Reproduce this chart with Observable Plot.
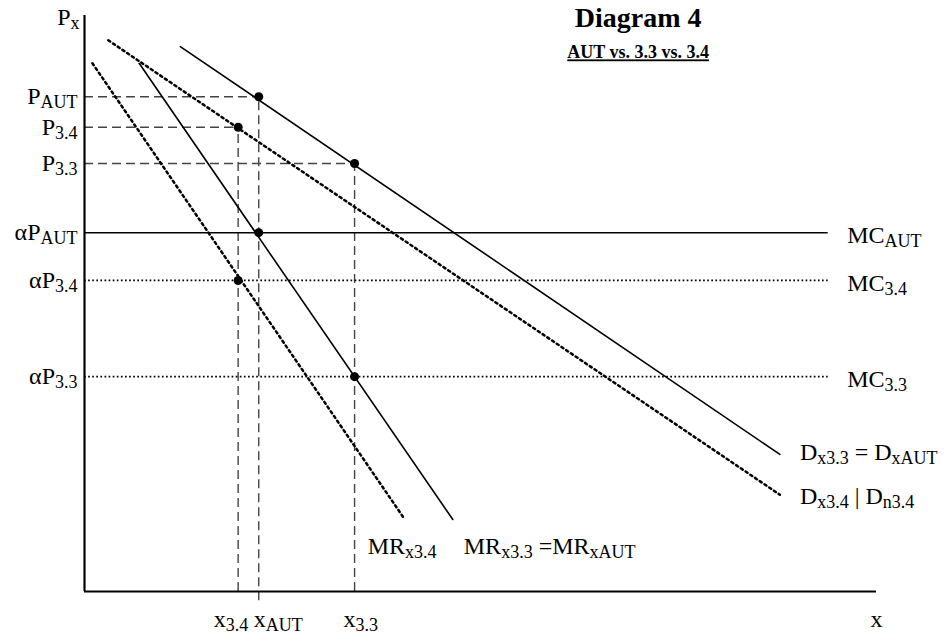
<!DOCTYPE html>
<html>
<head>
<meta charset="utf-8">
<script src="https://cdn.jsdelivr.net/npm/d3@7"></script>
<script src="https://cdn.jsdelivr.net/npm/@observablehq/plot@0.6"></script>
<style>
  html, body { margin: 0; padding: 0; background: white; }
</style>
</head>
<body>
<div id="chart"></div>
<script>
// ---- Data (schematic units: quantity 0-100, price 0-100) ----
const scenarios = ["3.4", "AUT", "3.3"];
const quantities = [19.4, 22.0, 34.1];        // x_3.4, x_AUT, x_3.3
const prices = [80.6, 85.9, 74.3];            // P_3.4, P_AUT, P_3.3
const marginalCosts = [54.0, 62.3, 37.3];     // αP_3.4, αP_AUT, αP_3.3
const quantityLabels = ["x_{3.4}", "x_{AUT}", "x_{3.3}"];
const priceLabels = ["P_{3.4}", "P_{AUT}", "P_{3.3}"];
const mcAxisLabels = ["αP_{3.4}", "αP_{AUT}", "αP_{3.3}"];
const mcLineLabels = ["MC_{3.4}", "MC_{AUT}", "MC_{3.3}"];
const mcLineEnd = 93.9;

const demandAUT = [{x: 12.1, y: 94.6}, {x: 87.8, y: 23.8}];  // D_x3.3 = D_xAUT
const demand34 = [{x: 3.0, y: 95.7}, {x: 87.8, y: 16.8}];    // D_x3.4 | D_n3.4
const mr33 = [{x: 6.9, y: 91.7}, {x: 46.5, y: 12.5}];        // MR_x3.3 = MR_xAUT
const mr34 = [{x: 1.0, y: 91.7}, {x: 40.3, y: 12.8}];        // MR_x3.4

const title = "Diagram 4";
const subtitle = "AUT vs. 3.3 vs. 3.4";

// ---- Build tables ----
const rows = scenarios.map((s, i) => ({
  s, q: quantities[i], p: prices[i], mc: marginalCosts[i],
  qLabel: quantityLabels[i], pLabel: priceLabels[i],
  mcAxis: mcAxisLabels[i], mcLine: mcLineLabels[i],
  below: s === "AUT" ? -1.6 : 0
}));
const solidMC = rows.filter(d => d.s === "AUT");
const dottedMC = rows.filter(d => d.s !== "AUT");
const bySc = s => rows.filter(d => d.s === s);

const FONT = 24;
const dashed = {stroke: "#444", strokeWidth: 1.4, strokeDasharray: "9,5"};
const dottedDiag = {stroke: "black", strokeWidth: 2.5, strokeDasharray: "2.3,3.4"};
const dottedFlat = {stroke: "black", strokeWidth: 1.7, strokeDasharray: "1.7,2.4"};

const chart = Plot.plot({
  width: 946,
  height: 637,
  marginLeft: 84,
  marginRight: 70,
  marginTop: 15,
  marginBottom: 46,
  x: {domain: [0, 100], axis: null},
  y: {domain: [0, 100], axis: null},
  style: {fontFamily: "'Liberation Serif', 'Times New Roman', serif", background: "white", color: "black", overflow: "visible"},
  marks: [
    // dashed guides
    Plot.ruleY(rows, {y: "p", x1: 0, x2: "q", ...dashed}),
    Plot.ruleX(rows, {x: "q", y1: "below", y2: "p", ...dashed}),
    // MC lines
    Plot.ruleY(solidMC, {y: "mc", x1: 0, x2: mcLineEnd, stroke: "black", strokeWidth: 1.5}),
    Plot.ruleY(dottedMC, {y: "mc", x1: 0, x2: mcLineEnd, ...dottedFlat}),
    // demand & MR curves
    Plot.line(demandAUT, {x: "x", y: "y", stroke: "black", strokeWidth: 1.6}),
    Plot.line(demand34, {x: "x", y: "y", ...dottedDiag}),
    Plot.line(mr33, {x: "x", y: "y", stroke: "black", strokeWidth: 1.6}),
    Plot.line(mr34, {x: "x", y: "y", ...dottedDiag}),
    // axes
    Plot.ruleX([0], {y1: 0, y2: 100, stroke: "black", strokeWidth: 2.2}),
    Plot.ruleY([0], {x1: 0, x2: 100, stroke: "black", strokeWidth: 2.2}),
    // equilibrium dots
    Plot.dot(rows, {x: "q", y: "p", r: 4.5, fill: "black"}),
    Plot.dot(rows, {x: "q", y: "mc", r: 4.5, fill: "black"}),
    // axis labels
    Plot.text(["P_{x}"], {x: 0, y: 100, dx: -5, dy: 2, textAnchor: "end", fontSize: FONT}),
    Plot.text(["x"], {x: 100, y: 0, dy: 28, textAnchor: "middle", fontSize: FONT}),
    Plot.text(rows, {x: 0, y: "p", text: "pLabel", dx: -7, textAnchor: "end", fontSize: FONT}),
    Plot.text(rows, {x: 0, y: "mc", text: "mcAxis", dx: -7, textAnchor: "end", fontSize: FONT}),
    Plot.text(bySc("3.4"), {x: "q", y: 0, text: "qLabel", dx: 10, dy: 28, textAnchor: "end", fontSize: FONT}),
    Plot.text(bySc("AUT"), {x: "q", y: 0, text: "qLabel", dx: -5, dy: 28, textAnchor: "start", fontSize: FONT}),
    Plot.text(bySc("3.3"), {x: "q", y: 0, text: "qLabel", dx: -11, dy: 28, textAnchor: "start", fontSize: FONT}),
    Plot.text(rows, {x: mcLineEnd, y: "mc", text: "mcLine", dx: 19, dy: 3, textAnchor: "start", fontSize: FONT}),
    // curve labels
    Plot.text([demandAUT[1]], {x: "x", y: "y", text: () => "D_{x3.3} = D_{xAUT}", dx: 20, dy: -2, textAnchor: "start", fontSize: FONT}),
    Plot.text([demand34[1]], {x: "x", y: "y", text: () => "D_{x3.4} | D_{n3.4}", dx: 20, dy: 2, textAnchor: "start", fontSize: FONT}),
    Plot.text([mr34[1]], {x: "x", y: "y", text: () => "MR_{x3.4}", dx: -36, dy: 29, textAnchor: "start", fontSize: FONT}),
    Plot.text([mr33[1]], {x: "x", y: "y", text: () => "MR_{x3.3} =MR_{xAUT}", dx: 11, dy: 27, textAnchor: "start", fontSize: FONT}),
    // title
    Plot.text([title], {x: 69.9, y: 100, dy: 3, textAnchor: "middle", fontSize: 28, fontWeight: "bold"}),
    Plot.text([subtitle], {x: 69.9, y: 93.9, dy: 2, textAnchor: "middle", fontSize: 18, fontWeight: "bold"})
  ]
});

// ---- turn _{...} into real subscript tspans ----
const NS = "http://www.w3.org/2000/svg";
const SUB_SIZE = 18, SUB_DY = 4;
chart.querySelectorAll("text").forEach(t => {
  const s = t.textContent;
  if (s === subtitle) t.setAttribute("text-decoration", "underline");
  if (!s.includes("_{")) return;
  t.textContent = "";
  const re = /_\{([^}]*)\}/g;
  let last = 0, m, shifted = false;
  const addNormal = str => {
    if (!str) return;
    const ts = document.createElementNS(NS, "tspan");
    ts.textContent = str;
    if (shifted) { ts.setAttribute("dy", -SUB_DY); shifted = false; }
    t.appendChild(ts);
  };
  while ((m = re.exec(s))) {
    addNormal(s.slice(last, m.index));
    const sub = document.createElementNS(NS, "tspan");
    sub.textContent = m[1];
    sub.setAttribute("font-size", SUB_SIZE);
    if (!shifted) { sub.setAttribute("dy", SUB_DY); shifted = true; }
    t.appendChild(sub);
    last = re.lastIndex;
  }
  addNormal(s.slice(last));
});

document.getElementById("chart").appendChild(chart);
</script>
</body>
</html>
